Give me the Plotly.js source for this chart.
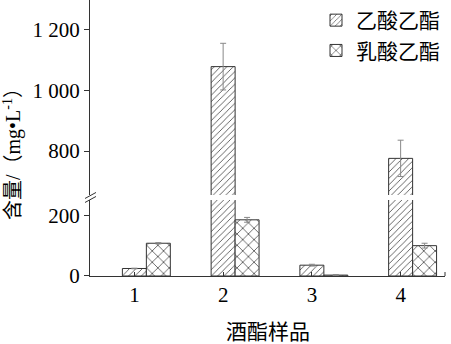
<!DOCTYPE html>
<html>
<head>
<meta charset="utf-8">
<script src="https://cdn.plot.ly/plotly-3.0.1.min.js"></script>
<style>html,body{margin:0;padding:0;background:#fff;}#chart{width:451px;height:344px;}</style>
</head>
<body>
<div id="chart"></div>
<script>
var samples = [1, 2, 3, 4];
var sampleLabels = ['1', '2', '3', '4'];
var ethylAcetate = [25, 1079, 36, 776];
var ethylAcetateErr = [1, 77, 3, 60];
var ethylLactate = [109, 187, 3, 101];
var ethylLactateErr = [2, 8, 2, 8];
var seriesNames = ['乙酸乙酯', '乳酸乙酯'];
var lowerTicks = [0, 200];
var lowerTickText = ['0', '200'];
var upperTicks = [800, 1000, 1200];
var upperTickText = ['800', '1 000', '1 200'];
var xTitle = '酒酯样品';
var yTitle = '含量/（mg•L<sup>-1</sup>）';

var FONT = 'Liberation Serif, Noto Sans CJK SC, serif';
var barW = 0.27;

function mk(vals, errs, name, shape, psize, offset, yaxis, showleg) {
  return {
    type: 'bar', x: samples, y: vals, name: name, yaxis: yaxis,
    width: barW, offset: offset, showlegend: showleg, legendgroup: name,
    marker: {
      color: '#ffffff',
      line: {color: '#333333', width: 1},
      pattern: {shape: shape, fgcolor: '#555555', bgcolor: '#ffffff', size: psize, solidity: 0.2}
    },
    error_y: {type: 'data', array: errs, visible: true, color: '#888888', thickness: 1, width: 3}
  };
}

var traces = [
  mk(ethylAcetate, ethylAcetateErr, seriesNames[0], '/', 4.5, -barW/2, 'y', true),
  mk(ethylLactate, ethylLactateErr, seriesNames[1], 'x', 8, barW/2, 'y', true),
  mk(ethylAcetate, ethylAcetateErr, seriesNames[0], '/', 4.5, -barW/2, 'y2', false),
  mk(ethylLactate, ethylLactateErr, seriesNames[1], 'x', 8, barW/2, 'y2', false)
];

var axisCommon = {
  showgrid: false, zeroline: false, showline: true, linecolor: '#333333', linewidth: 1, automargin: false,
  ticks: 'outside', ticklen: 5, tickcolor: '#333333', tickfont: {family: FONT, size: 21, color: '#000'}
};

var layout = {
  width: 451, height: 344,
  margin: {l: 90, r: 6, t: 0, b: 68},
  paper_bgcolor: '#ffffff', plot_bgcolor: '#ffffff',
  barmode: 'overlay',
  showlegend: true,
  legend: {x: 1, xanchor: 'right', y: 1, yanchor: 'top', bgcolor: 'rgba(0,0,0,0)',
           font: {family: FONT, size: 21, color: '#000'}, traceorder: 'normal', itemwidth: 30},
  xaxis: {
    range: [0.5, 4.5], tickvals: samples, ticktext: sampleLabels, automargin: false,
    showgrid: false, zeroline: false, showline: true, linecolor: '#333333', linewidth: 1,
    ticks: 'inside', ticklen: 4, tickcolor: '#333333',
    tickfont: {family: FONT, size: 21, color: '#000'}
  },
  yaxis: Object.assign({}, axisCommon, {
    domain: [0, 0.2754], range: [0, 253], tickvals: lowerTicks, ticktext: lowerTickText
  }),
  yaxis2: Object.assign({}, axisCommon, {
    domain: [0.2935, 1], range: [655, 1299], tickvals: upperTicks, ticktext: upperTickText
  }),
  annotations: [{
    text: yTitle, textangle: -90, showarrow: false,
    xref: 'paper', yref: 'paper', x: 0, xshift: -78, y: 0.46, xanchor: 'center', yanchor: 'middle',
    font: {family: FONT, size: 20, color: '#000000'}
  }, {
    text: xTitle, showarrow: false,
    xref: 'paper', yref: 'paper', x: 0.5, y: 0, yshift: -56, xanchor: 'center', yanchor: 'middle',
    font: {family: FONT, size: 21, color: '#000000'}
  }],
  shapes: [
    {type: 'line', xref: 'paper', yref: 'paper', xsizemode: 'pixel', ysizemode: 'pixel',
     xanchor: 0, yanchor: 0.2845, x0: -5, x1: 6, y0: -5, y1: 1, line: {color: '#333', width: 1}},
    {type: 'line', xref: 'paper', yref: 'paper', xsizemode: 'pixel', ysizemode: 'pixel',
     xanchor: 0, yanchor: 0.2845, x0: -5, x1: 6, y0: -1, y1: 5, line: {color: '#333', width: 1}},
    {type: 'line', xref: 'paper', yref: 'paper', xsizemode: 'pixel', ysizemode: 'pixel',
     xanchor: 1, yanchor: 0, x0: 0, x1: 0, y0: 0, y1: 4, line: {color: '#333', width: 1}}
  ]
};

Plotly.newPlot('chart', traces, layout, {displayModeBar: false, staticPlot: true});
</script>
</body>
</html>
